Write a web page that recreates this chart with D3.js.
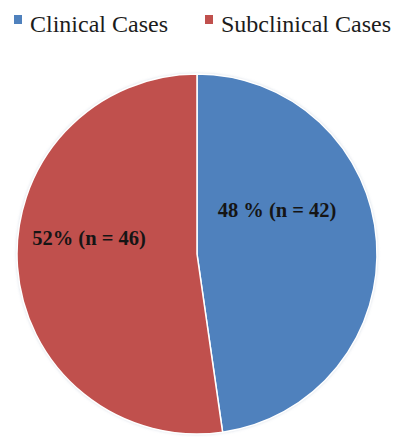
<!DOCTYPE html>
<html>
<head>
<meta charset="utf-8">
<script src="https://cdn.jsdelivr.net/npm/d3@7"></script>
<style>
  html, body { margin: 0; padding: 0; background: #ffffff; }
  svg { display: block; }
  .serif { font-family: "Liberation Serif", "Times New Roman", Times, "DejaVu Serif", serif; }
</style>
</head>
<body>
<svg id="chart" width="398" height="437"></svg>
<script>
// Case categories, counts and slice labels
const categories = ["Clinical Cases", "Subclinical Cases"];
const counts = [42, 46];
const sliceLabels = ["48 % (n = 42)", "52% (n = 46)"];
const colors = ["#4f81bd", "#c0504d"];

const svg = d3.select("#chart");
const cx = 197, cy = 254, radius = 180;

// soft edge under the pie
const defs = svg.append("defs");
const f = defs.append("filter").attr("id", "halo")
  .attr("x", "-10%").attr("y", "-10%").attr("width", "120%").attr("height", "120%");
f.append("feGaussianBlur").attr("stdDeviation", 1.5);

const color = d3.scaleOrdinal().domain(categories).range(colors);

const pie = d3.pie().sort(null).value(d => d.count);
const arcs = pie(categories.map((c, i) => ({ cat: c, count: counts[i], label: sliceLabels[i] })));
const arc = d3.arc().innerRadius(0).outerRadius(radius);

const g = svg.append("g").attr("transform", `translate(${cx},${cy})`);

g.append("circle").attr("r", radius + 0.5).attr("fill", "#b8c4d4")
  .attr("opacity", 0.6).attr("filter", "url(#halo)");

g.selectAll("path.slice").data(arcs).join("path")
  .attr("class", "slice")
  .attr("d", arc)
  .attr("fill", d => color(d.data.cat))
  .attr("stroke", "#ffffff")
  .attr("stroke-width", 1.5)
  .attr("stroke-linejoin", "round");

// slice labels
const labelOffsets = [[80, -37], [-108, -9]];
g.selectAll("text.lbl").data(arcs).join("text")
  .attr("class", "lbl serif")
  .attr("x", (d, i) => labelOffsets[i][0])
  .attr("y", (d, i) => labelOffsets[i][1])
  .attr("text-anchor", "middle")
  .style("font-weight", "bold")
  .style("font-size", "20.5px")
  .attr("fill", "#151515")
  .text(d => d.data.label);

// legend
const legendX = [14, 205];
const lg = svg.append("g");
categories.forEach((c, i) => {
  const item = lg.append("g").attr("transform", `translate(${legendX[i]},0)`);
  item.append("rect").attr("x", 0).attr("y", 15).attr("width", 8).attr("height", 9)
    .attr("fill", color(c));
  item.append("text").attr("class", "serif").attr("x", 16).attr("y", 32)
    .style("font-size", "24px").attr("fill", "#1c1c1c")
    .text(c);
});
</script>
</body>
</html>
